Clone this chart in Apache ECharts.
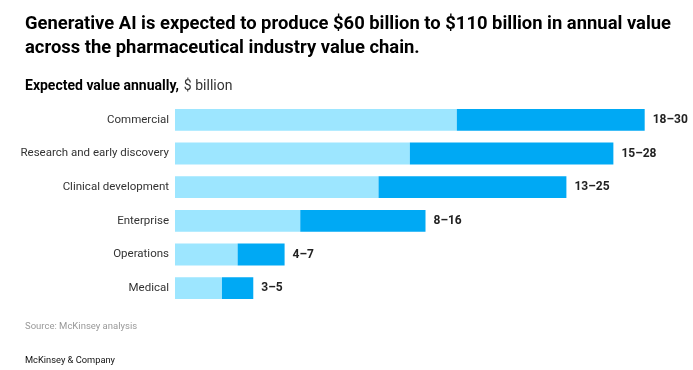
<!DOCTYPE html>
<html>
<head>
<meta charset="utf-8">
<script src="https://cdn.jsdelivr.net/npm/echarts@6/dist/echarts.min.js"></script>
<style>
html,body{margin:0;padding:0;background:#fff;}
#chart{width:693px;height:370px;}
</style>
</head>
<body>
<div id="chart"></div>
<script>
var categories = ['Commercial', 'Research and early discovery', 'Clinical development', 'Enterprise', 'Operations', 'Medical'];
var lowValues = [18, 15, 13, 8, 4, 3];
var highValues = [30, 28, 25, 16, 7, 5];

var rangeValues = highValues.map(function (h, i) { return h - lowValues[i]; });
var FONT = 'Roboto, "Liberation Sans", sans-serif';

var chart = echarts.init(document.getElementById('chart'));
chart.setOption({
  backgroundColor: '#ffffff',
  animation: false,
  title: [
    {
      text: 'Generative AI is expected to produce $60 billion to $110 billion in annual value\nacross the pharmaceutical industry value chain.',
      left: 20, top: 7,
      textStyle: { fontFamily: FONT, fontWeight: 'bold', fontSize: 18.4, lineHeight: 24, color: '#000' }
    },
    {
      text: '{b|Expected value annually,} {r|$ billion}',
      left: 20, top: 72,
      textStyle: {
        rich: {
          b: { fontFamily: FONT, fontWeight: 'bold', fontSize: 14, color: '#000' },
          r: { fontFamily: FONT, fontWeight: 'normal', fontSize: 14, color: '#333' }
        }
      }
    },
    {
      text: 'Source: McKinsey analysis',
      left: 20, top: 317,
      textStyle: { fontFamily: FONT, fontWeight: 'normal', fontSize: 9.5, color: '#999' }
    },
    {
      text: 'McKinsey & Company',
      left: 20, top: 351,
      textStyle: { fontFamily: FONT, fontWeight: 'normal', fontSize: 9.3, color: '#111' }
    }
  ],
  grid: { left: 175, right: 17, top: 103, bottom: 65, containLabel: false },
  xAxis: {
    type: 'value', min: 0, max: 32,
    show: false,
    splitLine: { show: false }
  },
  yAxis: {
    type: 'category', data: categories, inverse: true,
    axisLine: { show: false }, axisTick: { show: false },
    axisLabel: { fontFamily: FONT, fontSize: 11.5, color: '#333', margin: 6 }
  },
  series: [
    {
      type: 'bar', stack: 'v', data: lowValues, barCategoryGap: '35%',
      itemStyle: { color: '#9de6ff' }
    },
    {
      type: 'bar', stack: 'v', data: rangeValues, barCategoryGap: '35%',
      itemStyle: { color: '#00a9f4' },
      label: {
        show: true, position: 'right', distance: 8,
        fontFamily: FONT, fontWeight: 'bold', fontSize: 12, color: '#222',
        formatter: function (p) { return lowValues[p.dataIndex] + '\u2013' + highValues[p.dataIndex]; }
      }
    }
  ]
});
</script>
</body>
</html>
